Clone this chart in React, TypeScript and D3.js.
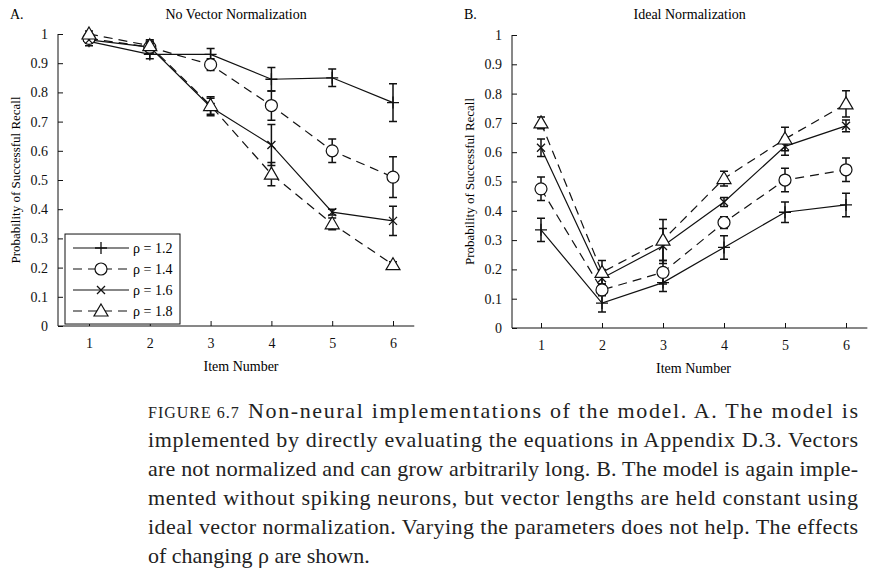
import React, { useEffect, useRef } from 'react';
import * as d3 from 'd3';

const items = [1, 2, 3, 4, 5, 6];
const rhoLabels = ['ρ = 1.2', 'ρ = 1.4', 'ρ = 1.6', 'ρ = 1.8'];
const markers = ['plus', 'circle', 'cross', 'triangle'];
const dashed = [false, true, false, true];

const leftMeans = [
  [0.975, 0.93, 0.93, 0.845, 0.85, 0.765],
  [0.985, 0.955, 0.895, 0.755, 0.6, 0.51],
  [0.98, 0.955, 0.75, 0.62, 0.39, 0.36],
  [1.0, 0.96, 0.755, 0.52, 0.35, 0.21],
];
const leftErrs = [
  [0.015, 0.015, 0.02, 0.04, 0.03, 0.065],
  [0.01, 0.02, 0.02, 0.05, 0.04, 0.07],
  [0.01, 0.02, 0.03, 0.07, 0.01, 0.05],
  [0.01, 0.02, 0.03, 0.04, 0.02, 0.01],
];
const rightMeans = [
  [0.335, 0.085, 0.155, 0.275, 0.395, 0.42],
  [0.475, 0.13, 0.19, 0.36, 0.505, 0.54],
  [0.615, 0.17, 0.28, 0.43, 0.62, 0.69],
  [0.7, 0.19, 0.3, 0.51, 0.645, 0.765],
];
const rightErrs = [
  [0.04, 0.03, 0.03, 0.04, 0.035, 0.04],
  [0.04, 0.02, 0.04, 0.02, 0.04, 0.04],
  [0.03, 0.03, 0.06, 0.015, 0.03, 0.02],
  [0.02, 0.04, 0.07, 0.025, 0.04, 0.045],
];
const yTicks = [0, 0.1, 0.2, 0.3, 0.4, 0.5, 0.6, 0.7, 0.8, 0.9, 1];

const captionLines = [
  'Non-neural implementations of the model. A. The model is',
  'implemented by directly evaluating the equations in Appendix D.3. Vectors',
  'are not normalized and can grow arbitrarily long. B. The model is again imple-',
  'mented without spiking neurons, but vector lengths are held constant using',
  'ideal vector normalization. Varying the parameters does not help. The effects',
  'of changing ρ are shown.',
];

const font = '"Liberation Serif", serif';

function drawMarker(g: d3.Selection<SVGGElement, unknown, null, undefined>, kind: string, x: number, y: number) {
  if (kind === 'plus') {
    g.append('path').attr('d', `M${x - 6},${y}H${x + 6}M${x},${y - 6}V${y + 6}`).attr('stroke', '#111').attr('stroke-width', 1.3);
  } else if (kind === 'cross') {
    g.append('path').attr('d', `M${x - 4},${y - 4}L${x + 4},${y + 4}M${x - 4},${y + 4}L${x + 4},${y - 4}`).attr('stroke', '#111').attr('stroke-width', 1.3);
  } else if (kind === 'circle') {
    g.append('circle').attr('cx', x).attr('cy', y).attr('r', 6).attr('fill', 'white').attr('stroke', '#111').attr('stroke-width', 1.2);
  } else {
    g.append('path').attr('d', `M${x},${y - 7}L${x + 7},${y + 5}L${x - 7},${y + 5}Z`).attr('fill', 'white').attr('stroke', '#111').attr('stroke-width', 1.2);
  }
}

function drawPanel(
  svg: d3.Selection<SVGSVGElement, unknown, null, undefined>,
  left: number, top: number, bottom: number, x1: number, x6: number,
  means: number[][], errs: number[][], letter: string, title: string, legend: boolean,
) {
  const g = svg.append('g');
  const step = (x6 - x1) / 5;
  const x = d3.scaleLinear().domain([1, 6]).range([x1, x6]);
  const y = d3.scaleLinear().domain([0, 1]).range([bottom, top]);
  const right = x6 + step * 0.35;

  const xa = g.append('g').attr('transform', `translate(0,${bottom})`)
    .call(d3.axisBottom(x).tickValues(items).tickSize(-5).tickPadding(12).tickFormat(d3.format('d')));
  xa.select('.domain').attr('d', `M${left},0H${right}`);
  const ya = g.append('g').attr('transform', `translate(${left},0)`)
    .call(d3.axisLeft(y).tickValues(yTicks).tickSize(-5).tickPadding(10).tickFormat((d) => `${d}`));
  ya.select('.domain').attr('d', `M0,${bottom}V${top}`);
  g.selectAll('.tick text').attr('font-family', font).attr('font-size', 14).attr('fill', '#111');
  g.selectAll('.domain, .tick line').attr('stroke', '#111');

  const line = d3.line<number>().x((_, i) => x(items[i])).y((d) => y(d));
  means.forEach((s, k) => {
    g.append('path').attr('d', line(s)).attr('fill', 'none').attr('stroke', '#111').attr('stroke-width', 1.2)
      .attr('stroke-dasharray', dashed[k] ? '9,6' : null);
    s.forEach((v, i) => {
      const cx = x(items[i]);
      const lo = y(v - errs[k][i]);
      const hi = y(v + errs[k][i]);
      g.append('path').attr('d', `M${cx},${lo}V${hi}M${cx - 4},${lo}H${cx + 4}M${cx - 4},${hi}H${cx + 4}`)
        .attr('stroke', '#111').attr('stroke-width', 1.5).attr('fill', 'none');
    });
  });
  means.forEach((s, k) => s.forEach((v, i) => drawMarker(g, markers[k], x(items[i]), y(v))));

  g.append('text').attr('x', left - 48).attr('y', 19).text(letter).attr('font-family', font).attr('font-size', 14);
  g.append('text').attr('x', (left + right) / 2).attr('y', 19).attr('text-anchor', 'middle').text(title)
    .attr('font-family', font).attr('font-size', 14);
  g.append('text').attr('transform', `translate(${left - 38},${(top + bottom) / 2}) rotate(-90)`)
    .attr('text-anchor', 'middle').text('Probability of Successful Recall').attr('font-family', font).attr('font-size', 13);
  g.append('text').attr('x', (x1 + x6) / 2).attr('y', bottom + 45).attr('text-anchor', 'middle').text('Item Number')
    .attr('font-family', font).attr('font-size', 14);

  if (legend) {
    const lx = left + 7, ly = y(0.315);
    g.append('rect').attr('x', lx).attr('y', ly).attr('width', 115).attr('height', 90)
      .attr('fill', 'white').attr('stroke', '#111').attr('stroke-width', 1);
    rhoLabels.forEach((lab, k) => {
      const yy = ly + 14 + k * 21;
      g.append('path').attr('d', `M${lx + 8},${yy}H${lx + 64}`).attr('stroke', '#111').attr('stroke-width', 1.2)
        .attr('stroke-dasharray', dashed[k] ? '9,6' : null);
      drawMarker(g, markers[k], lx + 36, yy);
      g.append('text').attr('x', lx + 68).attr('y', yy + 5).text(lab).attr('font-family', font).attr('font-size', 14);
    });
  }
}

const App: React.FC = () => {
  const ref = useRef<SVGSVGElement | null>(null);
  useEffect(() => {
    if (!ref.current) return;
    const svg = d3.select(ref.current);
    svg.selectAll('*').remove();
    drawPanel(svg, 58, 34, 326, 89, 393, leftMeans, leftErrs, 'A.', 'No Vector Normalization', true);
    drawPanel(svg, 512, 35, 328, 541, 846, rightMeans, rightErrs, 'B.', 'Ideal Normalization', false);

    const cap = svg.append('g').attr('font-family', font).attr('font-size', 22).attr('fill', '#222');
    const t0 = cap.append('text').attr('x', 148).attr('y', 418);
    t0.append('tspan').text('FIGURE 6.7').attr('font-size', 16).attr('letter-spacing', 1);
    t0.append('tspan').attr('x', 248).text(captionLines[0]).attr('textLength', 610).attr('lengthAdjust', 'spacing');
    captionLines.slice(1).forEach((l, i) => {
      const t = cap.append('text').attr('x', 148).attr('y', 447 + i * 29).text(l);
      if (i < captionLines.length - 2) t.attr('textLength', 710).attr('lengthAdjust', 'spacing');
    });
  }, []);
  return (
    <svg ref={ref} width={873} height={572} style={{ display: 'block', marginTop: -8, marginLeft: -8 }} />
  );
};

export default App;
